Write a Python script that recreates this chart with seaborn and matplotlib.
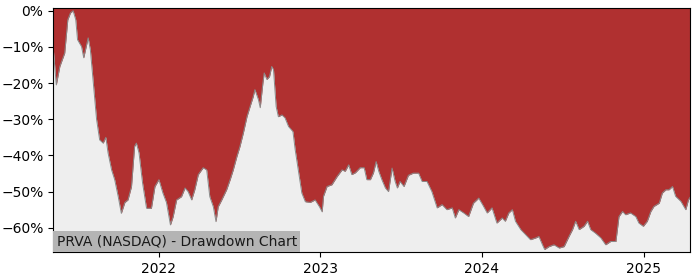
import matplotlib
matplotlib.use("Agg")
import matplotlib.pyplot as plt
import matplotlib.ticker as mticker
import seaborn as sns
import pandas as pd

dates = [
    "2021-05-07", "2021-05-14", "2021-05-22", "2021-06-02", "2021-06-09", "2021-06-15",
    "2021-06-21", "2021-06-27", "2021-07-01", "2021-07-10", "2021-07-15", "2021-07-25",
    "2021-07-30", "2021-08-05", "2021-08-13", "2021-08-20", "2021-08-28", "2021-09-03",
    "2021-09-08", "2021-09-16", "2021-09-23", "2021-10-01", "2021-10-08", "2021-10-16",
    "2021-10-23", "2021-10-31", "2021-11-07", "2021-11-11", "2021-11-17", "2021-11-25",
    "2021-12-04", "2021-12-15", "2021-12-23", "2022-01-01", "2022-01-10", "2022-01-18",
    "2022-01-27", "2022-02-02", "2022-02-10", "2022-02-21", "2022-03-01", "2022-03-08",
    "2022-03-16", "2022-03-23", "2022-03-31", "2022-04-11", "2022-04-19", "2022-04-26",
    "2022-05-04", "2022-05-10", "2022-05-15", "2022-05-23", "2022-06-03", "2022-06-11",
    "2022-06-18", "2022-06-26", "2022-07-03", "2022-07-11", "2022-07-19", "2022-07-26",
    "2022-08-02", "2022-08-06", "2022-08-14", "2022-08-18", "2022-08-24", "2022-08-27",
    "2022-09-02", "2022-09-08", "2022-09-13", "2022-09-17", "2022-09-23", "2022-09-28",
    "2022-10-06", "2022-10-13", "2022-10-21", "2022-10-31", "2022-11-05", "2022-11-12",
    "2022-11-20", "2022-11-28", "2022-12-09", "2022-12-20", "2022-12-30", "2023-01-05",
    "2023-01-08", "2023-01-16", "2023-01-27", "2023-02-08", "2023-02-19", "2023-02-26",
    "2023-03-06", "2023-03-13", "2023-03-21", "2023-04-01", "2023-04-10", "2023-04-16",
    "2023-04-24", "2023-05-01", "2023-05-07", "2023-05-13", "2023-05-20", "2023-05-28",
    "2023-06-04", "2023-06-12", "2023-06-19", "2023-06-24", "2023-06-30", "2023-07-09",
    "2023-07-19", "2023-07-30", "2023-08-11", "2023-08-19", "2023-08-30", "2023-09-10",
    "2023-09-22", "2023-10-03", "2023-10-14", "2023-10-26", "2023-11-02", "2023-11-10",
    "2023-11-21", "2023-12-02", "2023-12-13", "2023-12-25", "2024-01-05", "2024-01-13",
    "2024-01-24", "2024-02-04", "2024-02-16", "2024-02-23", "2024-03-02", "2024-03-10",
    "2024-03-17", "2024-03-29", "2024-04-09", "2024-04-20", "2024-05-02", "2024-05-09",
    "2024-05-17", "2024-05-22", "2024-06-01", "2024-06-12", "2024-06-24", "2024-07-05",
    "2024-07-16", "2024-07-24", "2024-07-31", "2024-08-08", "2024-08-19", "2024-08-27",
    "2024-09-03", "2024-09-14", "2024-09-26", "2024-10-07", "2024-10-18", "2024-10-30",
    "2024-11-06", "2024-11-14", "2024-11-21", "2024-12-02", "2024-12-14", "2024-12-21",
    "2024-12-31", "2025-01-09", "2025-01-17", "2025-01-24", "2025-02-05", "2025-02-12",
    "2025-02-20", "2025-02-27", "2025-03-07", "2025-03-14", "2025-03-26", "2025-04-06",
    "2025-04-12", "2025-04-16",
]
drawdown = [
    -10.3, -20.5, -15.4, -11.7, -2.5, -0.6,
    0.0, -2.5, -8.0, -9.9, -13.0, -7.5,
    -10.8, -19.0, -30.0, -35.7, -36.6, -35.0,
    -39.3, -44.0, -46.7, -51.4, -56.0, -53.0,
    -52.3, -48.6, -37.5, -36.6, -39.3, -47.6,
    -54.6, -54.6, -48.6, -46.7, -50.4, -53.0,
    -59.2, -57.0, -52.3, -51.4, -49.0, -50.0,
    -52.3, -49.5, -45.3, -43.4, -44.0, -51.4,
    -54.2, -58.3, -54.2, -52.3, -49.5, -46.7,
    -44.0, -40.4, -37.6, -33.7, -29.3, -26.5,
    -23.8, -21.8, -24.6, -26.8, -20.0, -17.2,
    -19.0, -18.2, -15.4, -16.3, -26.5, -29.3,
    -28.8, -29.6, -32.0, -33.4, -38.4, -44.0,
    -50.4, -52.8, -53.0, -52.3, -54.2, -55.6,
    -51.3, -48.6, -48.1, -45.8, -44.0, -44.4,
    -42.6, -45.3, -44.8, -43.4, -43.4, -46.7,
    -46.7, -44.8, -41.7, -44.4, -46.7, -49.0,
    -50.0, -43.5, -47.2, -49.0, -47.2, -48.6,
    -45.5, -44.9, -44.9, -47.2, -47.2, -50.0,
    -54.5, -53.6, -55.0, -54.5, -57.3, -55.0,
    -55.9, -56.9, -53.2, -51.8, -54.1, -55.9,
    -54.5, -58.7, -57.3, -58.2, -55.9, -55.0,
    -58.2, -60.5, -61.9, -63.3, -62.8, -62.4,
    -64.7, -66.0, -65.2, -64.7, -65.6, -65.2,
    -62.4, -60.5, -58.2, -60.5, -59.6, -58.2,
    -60.5, -61.5, -62.8, -64.7, -63.8, -63.8,
    -56.9, -55.5, -56.4, -55.9, -56.9, -58.7,
    -59.6, -58.2, -55.5, -54.1, -53.2, -50.4,
    -49.5, -49.5, -48.6, -51.3, -52.7, -55.0,
    -52.3, -51.5,
]
year_ticks = ["2022-01-01", "2023-01-01", "2024-01-01", "2025-01-01"]
year_labels = ["2022", "2023", "2024", "2025"]
y_ticks = [0, -10, -20, -30, -40, -50, -60]
title_text = "PRVA (NASDAQ) - Drawdown Chart"

df = pd.DataFrame({"date": pd.to_datetime(dates), "dd": drawdown})

sns.set_theme(style="ticks")
plt.rcParams["font.family"] = ["DejaVu Sans"]

fig, ax = plt.subplots(figsize=(7, 2.8), dpi=100)
fig.subplots_adjust(left=0.076, right=0.986, top=0.972, bottom=0.1)
ax.set_facecolor("#eeeeee")

ax.fill_between(df["date"], df["dd"], 1.0, color="#b03030", linewidth=0)
sns.lineplot(data=df, x="date", y="dd", ax=ax, color="#8a8a8a", linewidth=0.7)

ax.set_xlim(df["date"].min(), df["date"].max())
ax.set_ylim(-66.7, 0.8)
ax.set_yticks(y_ticks)
ax.yaxis.set_major_formatter(mticker.PercentFormatter(xmax=100, decimals=0))
ax.set_xticks(pd.to_datetime(year_ticks))
ax.set_xticklabels(year_labels)
ax.set_xlabel("")
ax.set_ylabel("")
ax.tick_params(labelsize=10, colors="#000000", length=3.5, width=0.8)
for s in ax.spines.values():
    s.set_visible(True)
    s.set_color("black")
    s.set_linewidth(0.8)

ax.text(0.0055, 0.0145, title_text, transform=ax.transAxes, ha="left", va="bottom",
        fontsize=10, color="#1a1a1a",
        bbox=dict(facecolor="#b4b4b4", edgecolor="none", pad=2.5))

fig.savefig("out.png", dpi=100)
